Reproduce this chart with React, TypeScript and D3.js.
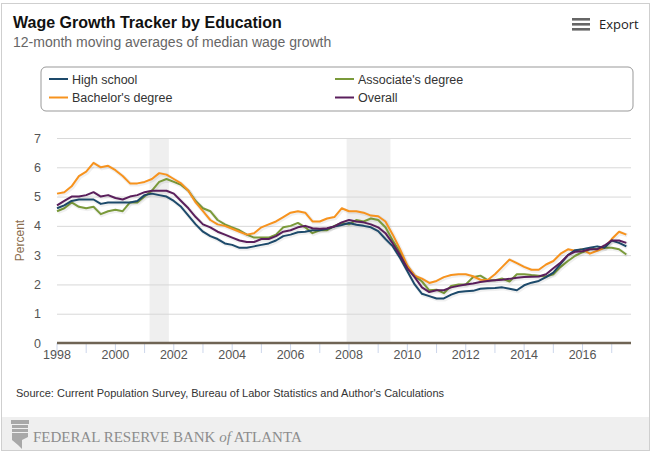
import { useEffect, useRef } from "react";
import * as d3 from "d3";

// quarterly readings, first point = Q1 1998
const startYear = 1998;

const seriesNames = ["High school", "Associate's degree", "Bachelor's degree", "Overall"];
const seriesColors = ["#1d4a6b", "#7a9a3a", "#f7931e", "#5a1f5c"];

const highSchool = [
  4.6, 4.7, 4.85, 4.9, 4.9, 4.9, 4.75, 4.8, 4.8, 4.8, 4.8, 4.85,
  5.05, 5.1, 5.05, 5.0, 4.85, 4.65, 4.35, 4.05, 3.8, 3.65, 3.55, 3.4,
  3.35, 3.25, 3.25, 3.3, 3.35, 3.4, 3.5, 3.65, 3.7, 3.78, 3.8, 3.85,
  3.85, 3.9, 3.98, 4.03, 4.1, 4.04, 4.0, 3.95, 3.82, 3.55, 3.3, 2.9,
  2.45, 2.0, 1.68, 1.6, 1.52, 1.52, 1.65, 1.74, 1.77, 1.78, 1.85, 1.87,
  1.88, 1.9, 1.85, 1.8, 1.97, 2.06, 2.12, 2.25, 2.4, 2.7, 3.0, 3.17,
  3.2, 3.25, 3.3, 3.25, 3.5, 3.42, 3.3,
];

const associates = [
  4.5, 4.6, 4.8, 4.65, 4.6, 4.65, 4.4, 4.5, 4.55, 4.5, 4.8, 4.8,
  5.0, 5.2, 5.5, 5.6, 5.5, 5.4, 5.2, 4.85, 4.6, 4.5, 4.2, 4.05,
  3.95, 3.85, 3.7, 3.6, 3.6, 3.6, 3.7, 3.95, 4.0, 4.1, 3.95, 3.75,
  3.85, 3.85, 4.0, 4.1, 4.05, 4.2, 4.15, 4.25, 4.2, 3.95, 3.5, 3.1,
  2.6, 2.3, 2.1, 1.8, 1.82, 1.7, 1.95, 2.0, 2.0, 2.25, 2.3, 2.15,
  2.14, 2.2, 2.1, 2.35, 2.35, 2.32, 2.3, 2.27, 2.35, 2.6, 2.8, 2.98,
  3.1, 3.2, 3.22, 3.25, 3.25, 3.2, 3.02,
];

const bachelors = [
  5.1, 5.15, 5.35, 5.7, 5.85, 6.15, 6.0, 6.05, 5.9, 5.7, 5.45, 5.45,
  5.5, 5.6, 5.8, 5.75, 5.6, 5.45, 5.2, 4.8, 4.5, 4.2, 4.05, 4.0,
  3.9, 3.8, 3.7, 3.75, 3.95, 4.05, 4.15, 4.3, 4.45, 4.5, 4.45, 4.15,
  4.15, 4.25, 4.3, 4.6, 4.5, 4.5, 4.45, 4.35, 4.33, 4.15, 3.7, 3.2,
  2.65, 2.3, 2.2, 2.05, 2.12, 2.25, 2.32, 2.35, 2.35, 2.28, 2.16, 2.15,
  2.35, 2.6, 2.85, 2.73, 2.6, 2.5, 2.5, 2.68, 2.8, 3.05, 3.2, 3.15,
  3.2, 3.05, 3.15, 3.25, 3.55, 3.8, 3.7,
];

const overall = [
  4.7, 4.85, 5.0, 5.0, 5.05, 5.15, 5.0, 5.05, 4.95, 4.9, 5.0, 5.05,
  5.15, 5.2, 5.2, 5.2, 5.1, 4.85, 4.6, 4.3, 4.05, 3.95, 3.8, 3.7,
  3.6, 3.5, 3.45, 3.45, 3.55, 3.55, 3.65, 3.8, 3.85, 3.95, 4.0, 3.92,
  3.9, 3.92, 3.98, 4.12, 4.2, 4.15, 4.12, 4.05, 3.95, 3.75, 3.4, 3.0,
  2.55, 2.25, 1.9, 1.74, 1.8, 1.8, 1.9, 1.95, 2.0, 2.03, 2.08, 2.12,
  2.14, 2.16, 2.19, 2.23, 2.25, 2.26, 2.27, 2.35, 2.55, 2.75, 3.0, 3.12,
  3.13, 3.2, 3.2, 3.33, 3.5, 3.5, 3.42,
];

// recessions as [start, end] in fractional years
const recessions = [
  [2001.17, 2001.83],
  [2007.92, 2009.42],
];

const yTicks = [0, 1, 2, 3, 4, 5, 6, 7];
const xLabelYears = [1998, 2000, 2002, 2004, 2006, 2008, 2010, 2012, 2014, 2016];

const W = 654;
const H = 455;
const font = "'Liberation Sans', Arial, sans-serif";

export default function App() {
  const svgRef = useRef<SVGSVGElement | null>(null);

  useEffect(() => {
    const svg = d3.select(svgRef.current);
    svg.selectAll("*").remove();

    const left = 57;
    const right = 631;
    const top = 138;
    const bottom = 343;

    const x = d3.scaleLinear().domain([1998, 2017.66]).range([left, right]);
    const y = d3.scaleLinear().domain([0, 7]).range([bottom, top]);

    // frame
    svg
      .append("rect")
      .attr("x", 1.5)
      .attr("y", 3.5)
      .attr("width", 648)
      .attr("height", 447)
      .attr("fill", "#fff")
      .attr("stroke", "#cfcfcf");

    svg
      .append("text")
      .attr("x", 13)
      .attr("y", 28)
      .attr("font-family", font)
      .attr("font-size", 16)
      .attr("font-weight", "bold")
      .attr("fill", "#111")
      .text("Wage Growth Tracker by Education");

    svg
      .append("text")
      .attr("x", 13)
      .attr("y", 47)
      .attr("font-family", font)
      .attr("font-size", 14)
      .attr("fill", "#666")
      .text("12-month moving averages of median wage growth");

    // export button
    const exp = svg.append("g");
    [0, 5, 10].forEach((dy) => {
      exp
        .append("rect")
        .attr("x", 572)
        .attr("y", 18 + dy)
        .attr("width", 18)
        .attr("height", 2.6)
        .attr("fill", "#666");
    });
    exp
      .append("text")
      .attr("x", 599)
      .attr("y", 29)
      .attr("font-family", "'Open Sans', sans-serif")
      .attr("font-size", 13)
      .attr("fill", "#222")
      .text("Export");

    // legend
    svg
      .append("rect")
      .attr("x", 41)
      .attr("y", 67)
      .attr("width", 592)
      .attr("height", 44)
      .attr("rx", 5)
      .attr("fill", "none")
      .attr("stroke", "#999");

    const legendPos = [
      [49, 79],
      [335, 79],
      [49, 97.5],
      [335, 97.5],
    ];
    seriesNames.forEach((name, i) => {
      const [lx, ly] = legendPos[i];
      svg
        .append("line")
        .attr("x1", lx)
        .attr("x2", lx + 19)
        .attr("y1", ly)
        .attr("y2", ly)
        .attr("stroke", seriesColors[i])
        .attr("stroke-width", 2);
      svg
        .append("text")
        .attr("x", lx + 23)
        .attr("y", ly + 4.5)
        .attr("font-family", font)
        .attr("font-size", 12.5)
        .attr("fill", "#333")
        .text(name);
    });

    // recession bands
    svg
      .selectAll(".rec")
      .data(recessions)
      .join("rect")
      .attr("x", (d) => x(d[0]))
      .attr("y", top)
      .attr("width", (d) => x(d[1]) - x(d[0]))
      .attr("height", bottom - top)
      .attr("fill", "#efefef");

    // grid
    svg
      .selectAll(".grid")
      .data(yTicks.filter((t) => t > 0))
      .join("line")
      .attr("x1", left)
      .attr("x2", right)
      .attr("y1", (d) => y(d) + 0.5)
      .attr("y2", (d) => y(d) + 0.5)
      .attr("stroke", "#d8d8d8");

    svg
      .selectAll(".ylab")
      .data(yTicks)
      .join("text")
      .attr("x", 41)
      .attr("y", (d) => y(d) + 4.5)
      .attr("text-anchor", "end")
      .attr("font-family", font)
      .attr("font-size", 12.5)
      .attr("fill", "#555")
      .text((d) => d);

    svg
      .append("text")
      .attr("transform", `translate(24,${(top + bottom) / 2}) rotate(-90)`)
      .attr("text-anchor", "middle")
      .attr("font-family", font)
      .attr("font-size", 12)
      .attr("fill", "#8a6d4d")
      .text("Percent");

    // x ticks every year
    svg
      .selectAll(".xtick")
      .data(d3.range(1998, 2018))
      .join("line")
      .attr("x1", (d) => x(d))
      .attr("x2", (d) => x(d))
      .attr("y1", bottom)
      .attr("y2", bottom + 10)
      .attr("stroke", "#ccd6eb");

    svg
      .selectAll(".xlab")
      .data(xLabelYears)
      .join("text")
      .attr("x", (d) => x(d))
      .attr("y", bottom + 16)
      .attr("text-anchor", "middle")
      .attr("font-family", font)
      .attr("font-size", 12.5)
      .attr("fill", "#555")
      .text((d) => d);

    // lines
    const all = [highSchool, associates, bachelors, overall];
    const line = d3
      .line<number>()
      .x((_, i) => x(startYear + i / 4))
      .y((d) => y(d));

    const order = [1, 2, 0, 3];
    order.forEach((k) => {
      svg
        .append("path")
        .attr("d", line(all[k]))
        .attr("fill", "none")
        .attr("stroke", "#000")
        .attr("stroke-opacity", 0.06)
        .attr("stroke-width", 4)
        .attr("transform", "translate(1,1)");
      svg
        .append("path")
        .attr("d", line(all[k]))
        .attr("fill", "none")
        .attr("stroke", seriesColors[k])
        .attr("stroke-width", 2)
        .attr("stroke-linejoin", "round");
    });

    // zero axis
    svg
      .append("line")
      .attr("x1", left)
      .attr("x2", right)
      .attr("y1", bottom)
      .attr("y2", bottom)
      .attr("stroke", "#6f6454")
      .attr("stroke-width", 2.5);

    svg
      .append("text")
      .attr("x", 16)
      .attr("y", 397)
      .attr("font-family", font)
      .attr("font-size", 11)
      .attr("fill", "#333")
      .text("Source: Current Population Survey, Bureau of Labor Statistics and Author's Calculations");

    // footer band
    svg
      .append("rect")
      .attr("x", 2)
      .attr("y", 417)
      .attr("width", 647)
      .attr("height", 33)
      .attr("fill", "#efefef");

    const logo = svg.append("g").attr("fill", "#a8a8a8");
    logo.append("rect").attr("x", 11).attr("y", 420).attr("width", 18).attr("height", 4);
    logo.append("rect").attr("x", 12).attr("y", 425).attr("width", 16).attr("height", 3);
    logo.append("rect").attr("x", 12).attr("y", 429).attr("width", 16).attr("height", 3);
    logo
      .append("path")
      .attr("d", "M12,433 L28,433 L28,437 L22,440 L22,449 L18,445 L12,440 Z");

    svg
      .append("text")
      .attr("x", 33)
      .attr("y", 441.5)
      .attr("font-family", "'Liberation Serif', 'Times New Roman', serif")
      .attr("font-size", 15)
      .attr("fill", "#8c8c8c")
      .html("FEDERAL RESERVE BANK <tspan font-style='italic'>of</tspan> ATLANTA");
  }, []);

  return (
    <svg
      ref={svgRef}
      width={W}
      height={H}
      style={{ position: "absolute", left: 0, top: 0, display: "block" }}
    />
  );
}
